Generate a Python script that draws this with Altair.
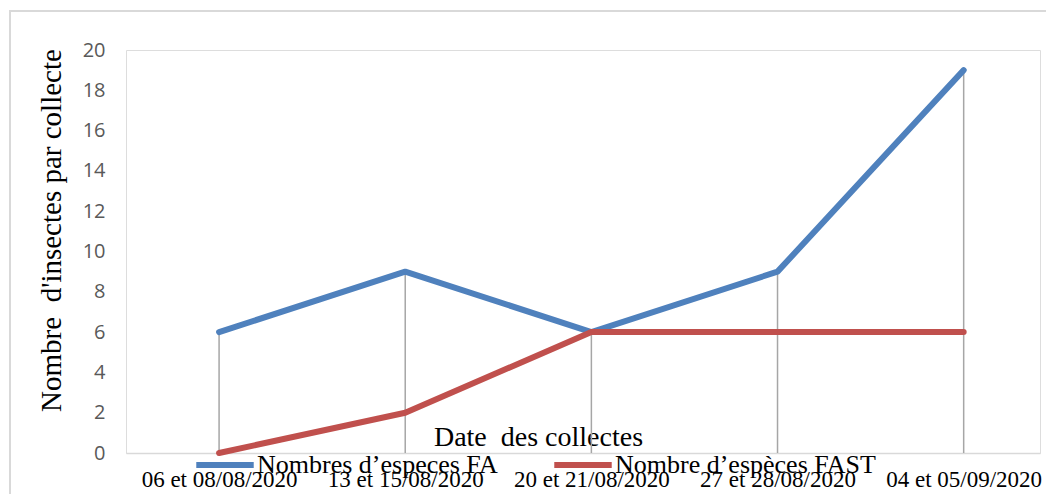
import altair as alt
import pandas as pd

dates = ["06 et 08/08/2020", "13 et 15/08/2020", "20 et 21/08/2020",
         "27 et 28/08/2020", "04 et 05/09/2020"]
fa = [6, 9, 6, 9, 19]
fast = [0, 2, 6, 6, 6]
series_names = ["Nombres d\u2019especes FA", "Nombre d\u2019esp\u00e8ces FAST"]
series_colors = ["#4f81bd", "#c0504d"]

rows = []
for i, d in enumerate(dates):
    rows.append({"i": i, "date": d, "serie": series_names[0], "v": fa[i]})
    rows.append({"i": i, "date": d, "serie": series_names[1], "v": fast[i]})
df = pd.DataFrame(rows)
drop = pd.DataFrame({"i": list(range(len(dates))),
                     "top": [max(a, b) for a, b in zip(fa, fast)],
                     "bot": [0] * len(dates)})

label_expr = "[" + ",".join("'" + d + "'" for d in dates) + "][datum.value]"

xscale = alt.Scale(domain=[-0.5, 4.41], nice=False, zero=False)
yscale = alt.Scale(domain=[0, 20], nice=False)

xaxis = alt.Axis(values=list(range(len(dates))), labelExpr=label_expr,
                 title="Date\u00a0 des collectes", titleFont="Liberation Serif",
                 titleFontSize=28, titleFontWeight="normal", titleColor="#000000",
                 titleX=412, titleY=-8, titleAnchor="middle", titleBaseline="alphabetic",
                 labelFont="Liberation Serif", labelFontSize=23, labelColor="#000000",
                 labelPadding=15, ticks=False, grid=False,
                 domainColor="#d9d9d9", domainWidth=1.5)
yaxis = alt.Axis(values=list(range(0, 21, 2)), title="Nombre\u00a0 d'insectes par collecte",
                 titleFont="Liberation Serif", titleFontSize=29, titleFontWeight="normal",
                 titleColor="#000000", titleX=-60, titleY=180, titleAnchor="middle",
                 labelFont="Open Sans", labelFontSize=20, labelColor="#595959",
                 labelPadding=21, ticks=False, grid=False, domain=False)

border = alt.Chart(pd.DataFrame({"a": [0]})).mark_rect(
    fill=None, stroke="#d9d9d9", strokeWidth=2, clip=False
).encode(x=alt.value(-116), x2=alt.value(930), y=alt.value(-39), y2=alt.value(460))

drops = alt.Chart(drop).mark_rule(color="#a6a6a6", strokeWidth=1.5).encode(
    x=alt.X("i:Q", scale=xscale, axis=xaxis),
    y=alt.Y("top:Q", scale=yscale, axis=yaxis),
    y2="bot:Q",
)

lines = alt.Chart(df).mark_line(strokeWidth=6, strokeCap="round", strokeJoin="round").encode(
    x=alt.X("i:Q", scale=xscale, axis=xaxis),
    y=alt.Y("v:Q", scale=yscale, axis=yaxis),
    color=alt.Color("serie:N", scale=alt.Scale(domain=series_names, range=series_colors),
                    sort=series_names,
                    legend=alt.Legend(orient="none", legendX=67, legendY=383,
                                      direction="horizontal", title=None,
                                      symbolType="stroke", symbolSize=3300,
                                      symbolStrokeWidth=6, labelFont="Liberation Serif",
                                      labelFontSize=26, labelColor="#000000",
                                      labelOffset=0, columnPadding=44, labelLimit=400)),
    detail="serie:N",
)

chart = alt.layer(border, drops, lines).properties(
    width=914, height=403,
    autosize=alt.AutoSizeParams(type="none"),
    padding={"left": 126, "top": 50, "right": 6, "bottom": 41},
).configure_view(stroke=None).configure(background="#ffffff")

chart.save("out.html", embed_options={"renderer": "svg", "actions": False})
